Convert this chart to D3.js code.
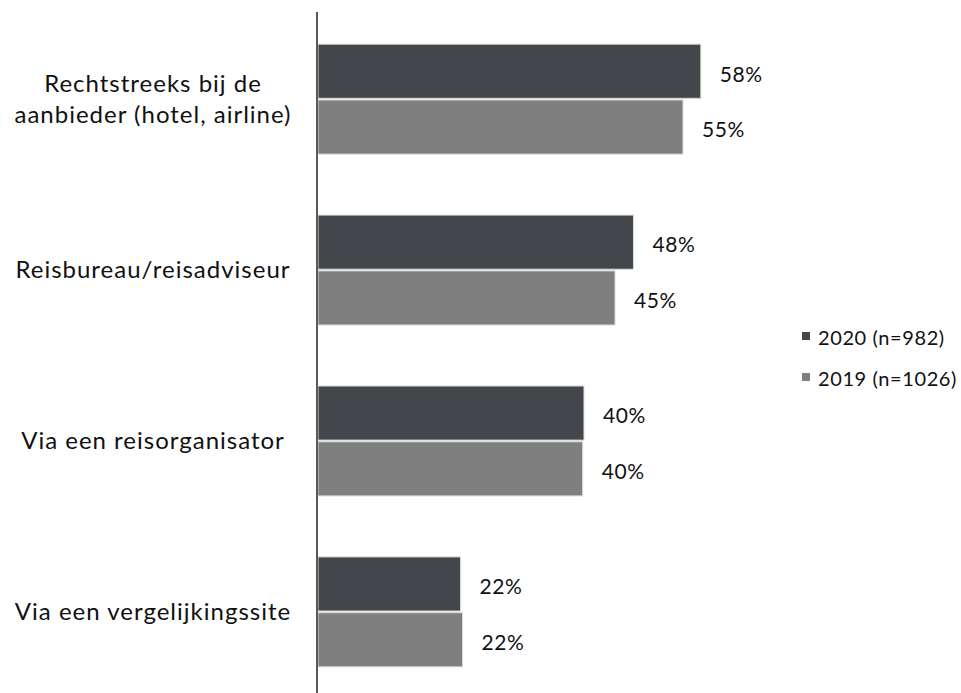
<!DOCTYPE html>
<html>
<head>
<meta charset="utf-8">
<script src="https://cdn.jsdelivr.net/npm/d3@7"></script>
<style>
  body { margin: 0; background: #fff; }
  svg { display: block; font-family: Lato, sans-serif; }
</style>
</head>
<body>
<div class="chart"></div>
<script>
// categories top to bottom, values in percent
var categories = [
    "Rechtstreeks bij de\naanbieder (hotel, airline)",
    "Reisbureau/reisadviseur",
    "Via een reisorganisator",
    "Via een vergelijkingssite"
];
var series = ["2020 (n=982)", "2019 (n=1026)"];
var values_2020 = [58.0, 47.8, 40.3, 21.6];
var values_2019 = [55.3, 45.0, 40.1, 21.9];
var colors = ["#43464b", "#7f7f7f"];

var width = 961, height = 693;

var svg = d3.select('.chart')
    .append('svg')
        .attr('width', width)
        .attr('height', height);

var x = d3.scaleLinear()
    .domain([0, 60])
    .range([318, 714]);

var y = d3.scaleBand()
    .domain(categories)
    .range([10, 701])
    .paddingInner(0.357)
    .paddingOuter(0.2);

var y_inner = d3.scaleBand()
    .domain(series)
    .range([0, y.bandwidth()])
    .paddingInner(0.03);

var data = categories.map(function(c, i) {
    return {cat: c, vals: [values_2020[i], values_2019[i]]};
});

var groups = svg.selectAll('.group')
    .data(data)
    .enter()
    .append('g')
        .attr('class', 'group')
        .attr('transform', function(d) { return 'translate(0,' + y(d.cat) + ')'; });

var bars = groups.selectAll('rect')
    .data(function(d) { return d.vals.map(function(v, j) { return {s: series[j], v: v, j: j}; }); })
    .enter()
    .append('rect')
        .attr('x', x(0))
        .attr('y', function(d) { return y_inner(d.s); })
        .attr('width', function(d) { return x(d.v) - x(0); })
        .attr('height', y_inner.bandwidth())
        .style('fill', function(d) { return colors[d.j]; })
        .style('stroke', '#d9d9d9')
        .style('stroke-width', 1);

groups.selectAll('.value')
    .data(function(d) { return d.vals.map(function(v, j) { return {s: series[j], v: v}; }); })
    .enter()
    .append('text')
        .attr('class', 'value')
        .attr('x', function(d) { return x(d.v) + 19; })
        .attr('y', function(d) { return y_inner(d.s) + y_inner.bandwidth() / 2 + 3; })
        .attr('dy', '0.35em')
        .style('font-size', '21px')
        .style('letter-spacing', '0.6px')
        .style('fill', '#111')
        .text(function(d) { return Math.round(d.v) + '%'; });

// category labels, centred to the left of the axis
var labels = svg.selectAll('.cat')
    .data(categories)
    .enter()
    .append('text')
        .attr('class', 'cat')
        .attr('text-anchor', 'middle')
        .style('font-size', '24px')
        .style('letter-spacing', '1px')
        .style('fill', '#111');

labels.each(function(d) {
    var lines = d.split('\n');
    var t = d3.select(this);
    var mid = y(d) + y.bandwidth() / 2;
    lines.forEach(function(line, k) {
        t.append('tspan')
            .attr('x', 153)
            .attr('y', mid + (k - (lines.length - 1) / 2) * 31)
            .attr('dy', '0.35em')
            .text(line);
    });
});

// vertical axis line
svg.append('g')
    .attr('transform', 'translate(317,0)')
    .call(d3.axisLeft(y).tickSize(0).tickFormat(''))
    .call(function(g) {
        g.select('.domain')
            .attr('d', 'M0,12V693')
            .attr('stroke', '#595959')
            .attr('stroke-width', 2);
    });

// legend
var legend = svg.selectAll('.legend')
    .data(series)
    .enter()
    .append('g')
        .attr('class', 'legend')
        .attr('transform', function(d, i) { return 'translate(802,' + (336 + i * 41) + ')'; });

legend.append('rect')
    .attr('x', 0)
    .attr('y', -4)
    .attr('width', 8)
    .attr('height', 8)
    .style('fill', function(d, i) { return colors[i]; });

legend.append('text')
    .attr('x', 16)
    .attr('y', 2)
    .attr('dy', '0.35em')
    .style('font-size', '20px')
    .style('letter-spacing', '0.6px')
    .style('fill', '#111')
    .text(function(d) { return d; });
</script>
</body>
</html>
